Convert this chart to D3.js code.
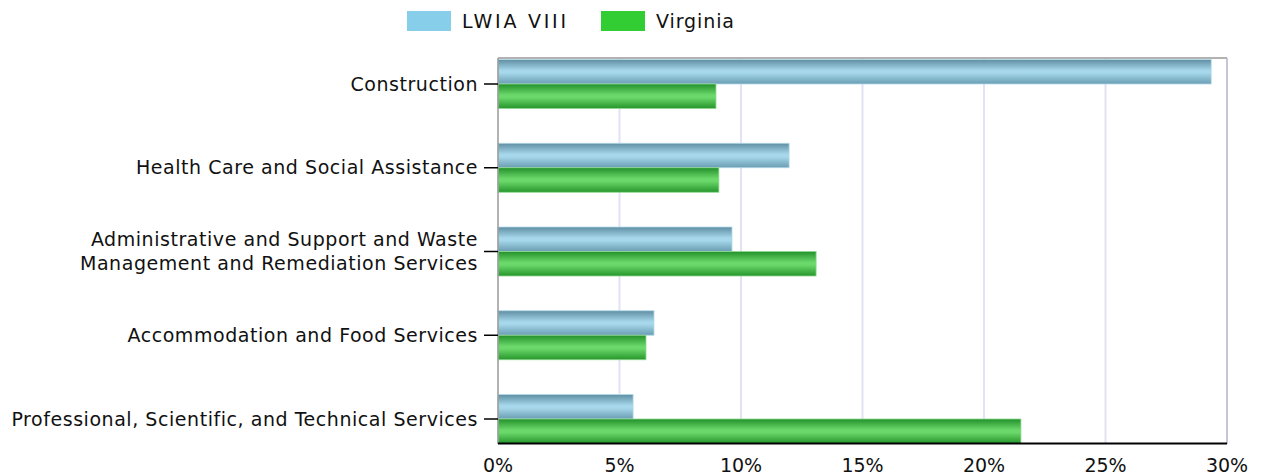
<!DOCTYPE html>
<html>
<head>
<meta charset="utf-8">
<script src="https://cdn.jsdelivr.net/npm/d3@7"></script>
<style>
  body { margin: 0; background: #fff; }
  svg { display: block; font-family: "DejaVu Sans", Verdana, sans-serif; }
</style>
</head>
<body>
<svg id="chart" width="1263" height="476"></svg>
<script>
// ---------------- DATA ----------------
const categories = [
  "Construction",
  "Health Care and Social Assistance",
  "Administrative and Support and Waste|Management and Remediation Services",
  "Accommodation and Food Services",
  "Professional, Scientific, and Technical Services"
];
const seriesNames = ["LWIA VIII", "Virginia"];
const lwiaValues = [29.35, 11.98, 9.63, 6.42, 5.56];
const virginiaValues = [8.97, 9.09, 13.09, 6.09, 21.52];
const xTicks = [0, 5, 10, 15, 20, 25, 30];

// ---------------- SETUP ----------------
const svg = d3.select("#chart");
const plot = { left: 498, right: 1227, top: 58, bottom: 444 };
const barH = 24.5;

const x = d3.scaleLinear().domain([0, 30]).range([plot.left, plot.right]);
const y = d3.scalePoint().domain(categories).range([84, 419]);

const colors = { "LWIA VIII": "#87ceeb", "Virginia": "#32cd32" };

// gradients for the glossy bars
const defs = svg.append("defs");
function gradient(id, stops) {
  const g = defs.append("linearGradient").attr("id", id)
    .attr("x1", 0).attr("y1", 0).attr("x2", 0).attr("y2", 1);
  stops.forEach(([o, c]) => g.append("stop").attr("offset", o).attr("stop-color", c));
}
gradient("gBlue", [[0, "#5f8ea3"], [0.45, "#a6d7ea"], [0.55, "#a6d7ea"], [1, "#6a9db3"]]);
gradient("gGreen", [[0, "#23912a"], [0.45, "#6ad86a"], [0.55, "#6ad86a"], [1, "#26952b"]]);

// ---------------- GRID ----------------
svg.append("g")
  .selectAll("line")
  .data(xTicks.slice(1))
  .join("line")
  .attr("x1", d => x(d)).attr("x2", d => x(d))
  .attr("y1", plot.top).attr("y2", plot.bottom)
  .attr("stroke", "#e2e2f4")
  .attr("stroke-width", 2);

// frame
svg.append("line")
  .attr("x1", plot.left).attr("x2", plot.right)
  .attr("y1", plot.top).attr("y2", plot.top)
  .attr("stroke", "#999").attr("stroke-width", 1.5);
svg.append("line")
  .attr("x1", plot.right).attr("x2", plot.right)
  .attr("y1", plot.top).attr("y2", plot.bottom)
  .attr("stroke", "#bbbbcc").attr("stroke-width", 1.5);

// ---------------- BARS ----------------
const rows = categories.map((c, i) => ({ c, lwia: lwiaValues[i], va: virginiaValues[i] }));

const bars = svg.append("g");
bars.selectAll("rect.lwia")
  .data(rows)
  .join("rect")
  .attr("class", "lwia")
  .attr("x", plot.left)
  .attr("y", d => y(d.c) - barH)
  .attr("width", d => x(d.lwia) - plot.left)
  .attr("height", barH)
  .attr("fill", "url(#gBlue)")
  .attr("stroke", "#b5dcea").attr("stroke-width", 0.8);

bars.selectAll("rect.va")
  .data(rows)
  .join("rect")
  .attr("class", "va")
  .attr("x", plot.left)
  .attr("y", d => y(d.c))
  .attr("width", d => x(d.va) - plot.left)
  .attr("height", barH)
  .attr("fill", "url(#gGreen)")
  .attr("stroke", "#8fd88f").attr("stroke-width", 0.8);

// ---------------- AXES ----------------
// left axis
svg.append("line")
  .attr("x1", plot.left).attr("x2", plot.left)
  .attr("y1", plot.top).attr("y2", plot.bottom)
  .attr("stroke", "#999").attr("stroke-width", 1.5);

const yAxis = svg.append("g");
yAxis.selectAll("line")
  .data(categories)
  .join("line")
  .attr("x1", plot.left - 14).attr("x2", plot.left)
  .attr("y1", d => y(d)).attr("y2", d => y(d))
  .attr("stroke", "#000").attr("stroke-width", 1.5);

yAxis.selectAll("text")
  .data(categories)
  .join("text")
  .attr("x", plot.left - 20)
  .attr("y", d => y(d))
  .attr("text-anchor", "end")
  .attr("font-size", 19)
  .attr("letter-spacing", 0.55)
  .attr("fill", "#111")
  .each(function (d) {
    const parts = d.split("|");
    const t = d3.select(this);
    parts.forEach((p, i) => {
      t.append("tspan")
        .attr("x", plot.left - 20)
        .attr("dy", i === 0 ? (parts.length === 1 ? "0.35em" : "-0.28em") : "1.27em")
        .text(p);
    });
  });

// bottom axis
svg.append("line")
  .attr("x1", plot.left).attr("x2", plot.right)
  .attr("y1", plot.bottom - 0.5).attr("y2", plot.bottom - 0.5)
  .attr("stroke", "#000").attr("stroke-width", 2);

svg.append("g")
  .selectAll("text")
  .data(xTicks)
  .join("text")
  .attr("x", d => x(d))
  .attr("y", 472)
  .attr("text-anchor", "middle")
  .attr("font-size", 19)
  .attr("fill", "#111")
  .text(d => d + "%");

// ---------------- LEGEND ----------------
const legendX = [407, 601];
const legendTextLen = [104, 78];
const legend = svg.append("g");
seriesNames.forEach((s, i) => {
  legend.append("rect")
    .attr("x", legendX[i]).attr("y", 11)
    .attr("width", 44).attr("height", 20)
    .attr("fill", colors[s]);
  legend.append("text")
    .attr("x", legendX[i] + 55).attr("y", 21)
    .attr("dy", "0.35em")
    .attr("font-size", 19)
    .attr("textLength", legendTextLen[i])
    .attr("lengthAdjust", "spacing")
    .attr("fill", "#111")
    .text(s);
});
</script>
</body>
</html>
